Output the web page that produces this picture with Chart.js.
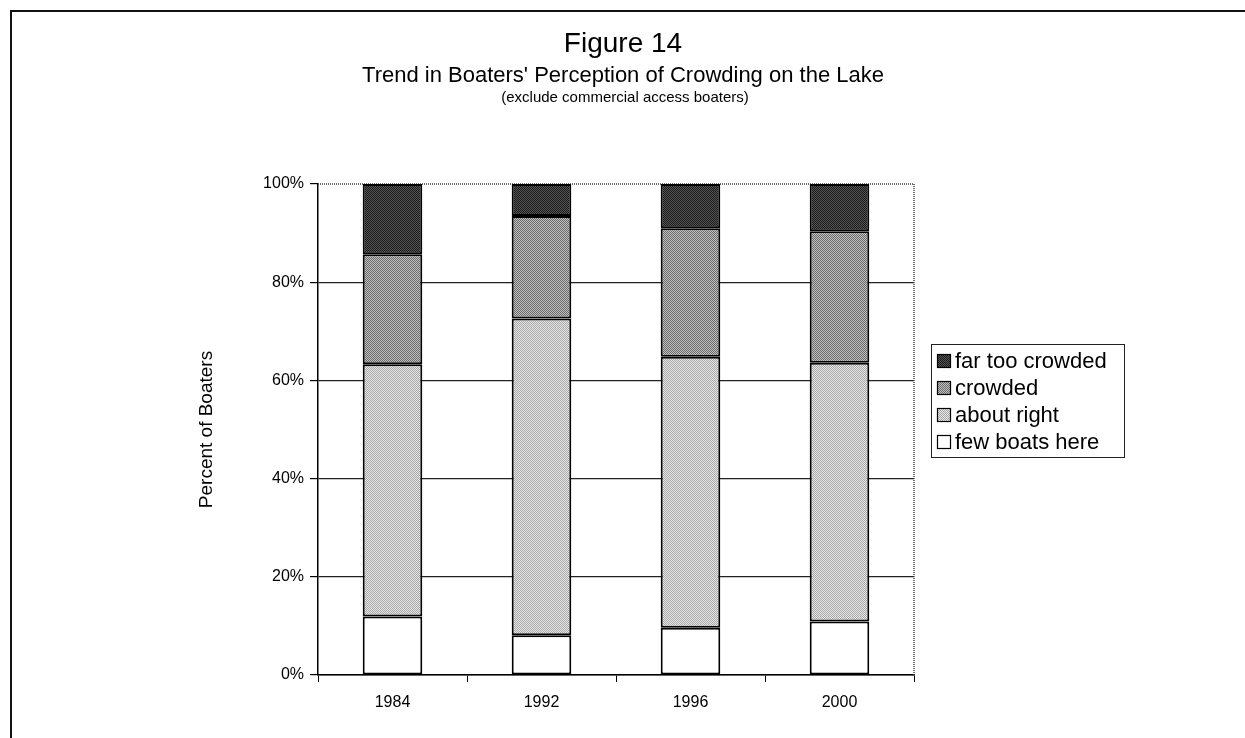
<!DOCTYPE html>
<html><head><meta charset="utf-8">
<script src="https://cdn.jsdelivr.net/npm/chart.js@4"></script>
<style>html,body{margin:0;padding:0;background:#fff}#wrap{width:1245px;height:738px;position:relative}</style>
</head><body><div id="wrap"><canvas id="c" width="1245" height="738"></canvas></div>
<script>
const categories = ['1984', '1992', '1996', '2000'];
const fewBoatsHere = [11.9, 8.1, 9.6, 10.9];
const aboutRight = [51.4, 64.5, 55.2, 52.7];
const crowded = [22.4, 20.9, 26.2, 26.8];
const farTooCrowded = [14.3, 6.5, 9.0, 9.6];
const seriesNames = ['few boats here', 'about right', 'crowded', 'far too crowded'];
const yTickValues = [0, 20, 40, 60, 80, 100];
const figureTitle = 'Figure 14';
const chartTitle = "Trend in Boaters' Perception of Crowding on the Lake";
const chartSubtitle = '(exclude commercial access boaters)';
const yAxisTitle = 'Percent of Boaters';

function makePattern(a, b) {
  const p = document.createElement('canvas');
  p.width = 2; p.height = 2;
  const g = p.getContext('2d');
  g.fillStyle = a; g.fillRect(0, 0, 2, 2);
  g.fillStyle = b; g.fillRect(0, 0, 1, 1); g.fillRect(1, 1, 1, 1);
  return g.createPattern(p, 'repeat');
}
const fills = [
  '#ffffff',
  makePattern('#e6e6e6', '#a8a8a8'),
  makePattern('#c0c0c0', '#6a6a6a'),
  makePattern('#555555', '#1a1a1a')
];
const seriesValues = [fewBoatsHere, aboutRight, crowded, farTooCrowded];

const FONT = '"Liberation Sans", Arial, Helvetica, sans-serif';

const deco = {
  id: 'deco',
  beforeDraw(chart) {
    const ctx = chart.ctx;
    ctx.save();
    ctx.fillStyle = '#fff';
    ctx.fillRect(0, 0, chart.width, chart.height);
    ctx.strokeStyle = '#111';
    ctx.lineWidth = 2;
    ctx.beginPath();
    ctx.moveTo(11, chart.height);
    ctx.lineTo(11, 11);
    ctx.lineTo(chart.width, 11);
    ctx.stroke();
    ctx.fillStyle = '#000';
    ctx.textAlign = 'center';
    ctx.textBaseline = 'middle';
    ctx.font = '28px ' + FONT;
    ctx.fillText(figureTitle, 623, 44);
    ctx.font = '22px ' + FONT;
    ctx.fillText(chartTitle, 623, 76);
    ctx.font = '15px ' + FONT;
    ctx.fillText(chartSubtitle, 625, 98);
    ctx.restore();
  },
  beforeDatasetsDraw(chart) {
    const ctx = chart.ctx, a = chart.chartArea;
    ctx.save();
    ctx.strokeStyle = '#444';
    ctx.lineWidth = 1.5;
    ctx.setLineDash([1, 1]);
    ctx.beginPath();
    ctx.moveTo(a.left, a.top);
    ctx.lineTo(a.right, a.top);
    ctx.lineTo(a.right, a.bottom);
    ctx.stroke();
    ctx.restore();
  },
  afterDraw(chart) {
    const ctx = chart.ctx;
    ctx.save();
    ctx.strokeStyle = '#222';
    ctx.lineWidth = 1;
    ctx.strokeRect(931.5, 344.5, 193, 113);
    ctx.font = '22px ' + FONT;
    ctx.textBaseline = 'middle';
    ctx.textAlign = 'left';
    const ds = chart.data.datasets;
    for (let k = 0; k < ds.length; k++) {
      const d = ds[ds.length - 1 - k];
      const y = 361 + k * 27;
      ctx.fillStyle = d.backgroundColor;
      ctx.fillRect(937.5, y - 6.5, 13, 13);
      ctx.strokeStyle = '#000';
      ctx.lineWidth = 1.2;
      ctx.strokeRect(937.5, y - 6.5, 13, 13);
      ctx.fillStyle = '#000';
      ctx.fillText(d.label, 955, y + 1);
    }
    ctx.restore();
  }
};

new Chart(document.getElementById('c'), {
  type: 'bar',
  data: {
    labels: categories,
    datasets: seriesNames.map((n, i) => ({
      label: n,
      data: seriesValues[i],
      backgroundColor: fills[i],
      borderColor: '#000',
      borderWidth: 2,
      borderSkipped: false,
      barPercentage: 0.4,
      categoryPercentage: 1.0
    }))
  },
  options: {
    responsive: false,
    animation: false,
    devicePixelRatio: 1,
    layout: { padding: { left: 195, top: 184, right: 331, bottom: 0 } },
    plugins: { legend: { display: false }, title: { display: false }, tooltip: { enabled: false } },
    scales: {
      x: {
        stacked: true,
        grid: { offset: true, drawOnChartArea: false, drawTicks: true, tickLength: 7, tickColor: '#000', tickWidth: 1 },
        border: { display: true, color: '#000', width: 1.5 },
        ticks: { color: '#000', font: { family: FONT, size: 16 }, padding: 11 },
        afterFit: s => { s.height = 63; }
      },
      y: {
        stacked: true,
        min: 0, max: 100,
        afterBuildTicks: s => { s.ticks = yTickValues.map(v => ({ value: v })); },
        ticks: { color: '#000', font: { family: FONT, size: 16 }, padding: 6, callback: v => v + '%' },
        grid: {
          color: c => (c.tick && c.tick.value === 100) ? 'rgba(0,0,0,0)' : '#222',
          tickColor: '#000', tickLength: 8, lineWidth: 1.2
        },
        border: { display: true, color: '#000', width: 1.5 },
        title: { display: true, text: yAxisTitle, color: '#000', font: { family: FONT, size: 19 }, padding: 0 },
        afterFit: s => { s.width = 123; }
      }
    }
  },
  plugins: [deco]
});
</script></body></html>
